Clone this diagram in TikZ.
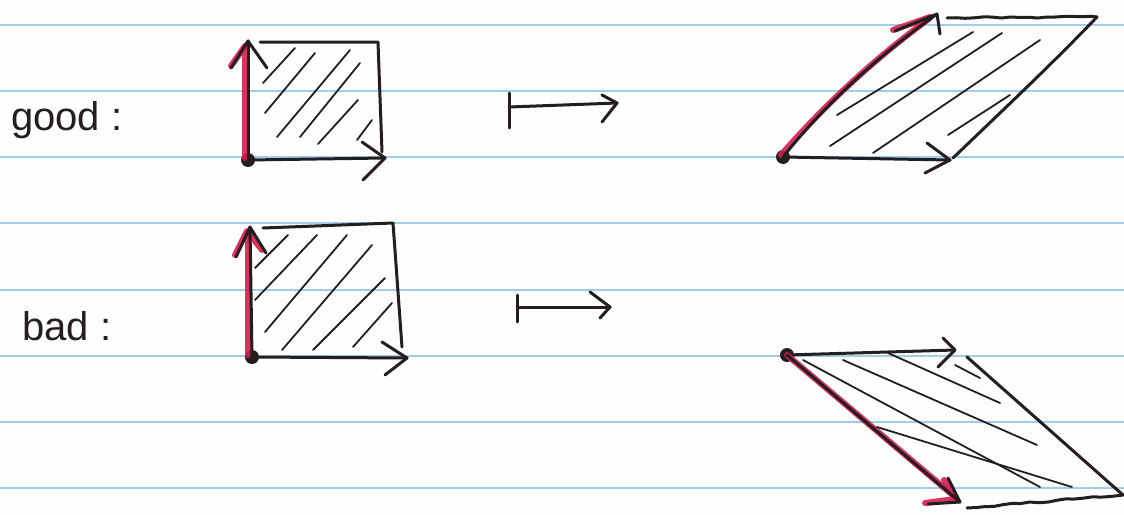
\documentclass[tikz,border=0pt]{standalone}
\usepackage{fontspec}
\setmainfont{Liberation Sans}
\usetikzlibrary{decorations.pathmorphing}
\definecolor{paper}{HTML}{FEFEFE}
\definecolor{rulecol}{HTML}{9FCDEB}
\definecolor{ink}{HTML}{241E21}
\definecolor{redink}{HTML}{D3204F}
\tikzset{
  pen/.style={ink, line width=3, line cap=round, line join=round},
  hatch/.style={ink, line width=1.8, line cap=round},
  redpen/.style={redink, line width=6, line cap=round, line join=round, opacity=0.9},
  wobbly/.style={decorate, decoration={random steps, segment length=9, amplitude=0.9}},
  dot/.style={circle, fill=ink, inner sep=0pt, minimum size=14},
  label/.style={anchor=base west, inner sep=0pt, text=ink, font=\fontsize{40}{40}\selectfont},
  paperline/.style={rulecol, line width=2}
}
\begin{document}
\begin{tikzpicture}[x=1pt,y=-1pt]
\pgfmathsetseed{7}
\fill[paper] (0,0) rectangle (1124,514);
\useasboundingbox (0,0) rectangle (1124,514);
% ruled lines
\foreach \yy in {25,91,157,223,290,356,422,488}
  \draw[paperline] (0,\yy) -- (1124,\yy);

% labels
\node[label] (good) at (11,130) {good :};
\node[label] (bad) at (22,340) {bad :};

% ===== good square =====
\node[dot] (gdot) at (248,160) {};
\coordinate (gU) at (248,41);
\coordinate (gR) at (385,158);
\draw[redpen] (245,158) -- (245,48);
\draw[redpen] (231,66) -- (245,46);
\draw[pen] (gdot.center) -- (gU);
\draw[pen] (231,68) -- (gU) -- (267,68);
\draw[pen] (260,42) -- (378,42) -- (382,152);
\draw[pen] (gdot.center) -- (gR);
\draw[pen] (362,142) -- (gR) -- (363,180);
\draw[hatch] (263,83) -- (295,48);
\draw[hatch] (265,113) -- (315,53);
\draw[hatch] (277,137) -- (350,50);
\draw[hatch] (300,137) -- (360,63);
\draw[hatch] (318,144) -- (358,100);
\draw[hatch] (357,140) -- (372,120);

% ===== good mapsto =====
\coordinate (gm1) at (509,107);
\coordinate (gm2) at (617,103);
\draw[pen] (509,93) -- (509,128);
\draw[pen] (gm1) -- (gm2);
\draw[pen] (602,95) -- (gm2) -- (602,122);

% ===== good parallelogram =====
\node[dot] (gpdot) at (783,157) {};
\coordinate (gpU) at (937,14);
\coordinate (gpR) at (950,160);
\draw[redpen] (781,155) .. controls (820,110) and (870,62) .. (930,18);
\draw[redpen] (893,30) -- (930,17);
\draw[pen] (gpdot.center) .. controls (822,108) and (875,58) .. (gpU);
\draw[pen] (895,31) -- (gpU) -- (940,34);
\draw[pen, wobbly] (947,18) -- (1097,17);
\draw[pen] (1097,17) .. controls (1052,64) and (1003,110) .. (953,158);
\draw[pen] (gpdot.center) -- (gpR);
\draw[pen] (927,143) -- (gpR) -- (925,173);
\draw[hatch] (837,115) -- (973,32);
\draw[hatch] (830,146) -- (1002,33);
\draw[hatch] (873,153) -- (1040,40);
\draw[hatch] (948,135) -- (1010,95);

% ===== bad square =====
\node[dot] (bdot) at (252,357) {};
\coordinate (bU) at (250,227);
\coordinate (bR) at (407,358);
\draw[redpen] (248,355) -- (248,233);
\draw[redpen] (235,255) -- (247,231) -- (262,250);
\draw[pen] (bdot.center) -- (bU);
\draw[pen] (236,257) -- (bU) -- (266,253);
\draw[pen] (263,228) -- (393,223) -- (402,347);
\draw[pen] (bdot.center) -- (bR);
\draw[pen] (382,342) -- (bR) -- (385,375);
\draw[hatch] (255,268) -- (288,235);
\draw[hatch] (255,300) -- (317,235);
\draw[hatch] (265,332) -- (347,235);
\draw[hatch] (282,350) -- (372,245);
\draw[hatch] (313,350) -- (385,278);
\draw[hatch] (353,347) -- (392,303);

% ===== bad mapsto =====
\coordinate (bm1) at (517,307);
\coordinate (bm2) at (610,307);
\draw[pen] (517,295) -- (517,322);
\draw[pen] (bm1) -- (bm2);
\draw[pen] (590,292) -- (bm2) -- (600,318);

% ===== bad parallelogram =====
\node[dot] (bpdot) at (787,355) {};
\coordinate (bpR) at (955,350);
\coordinate (bpD) at (960,502);
\draw[pen] (bpdot.center) -- (bpR);
\draw[pen] (943,338) -- (bpR) -- (938,367);
\draw[redpen] (bpdot.center) -- (955,497);
\draw[redpen] (925,503) -- (955,499) -- (944,480);
\draw[pen] (bpdot.center) -- (bpD);
\draw[pen] (928,504) -- (bpD) -- (948,478);
\draw[pen] (967,357) -- (1123,495);
\draw[pen, wobbly] (967,508) -- (1123,495);
\draw[hatch] (888,353) -- (1000,403);
\draw[hatch] (955,365) -- (980,378);
\draw[hatch] (843,360) -- (1037,445);
\draw[hatch] (803,360) -- (1040,487);
\draw[hatch] (877,427) -- (1072,487);
\end{tikzpicture}
\end{document}
